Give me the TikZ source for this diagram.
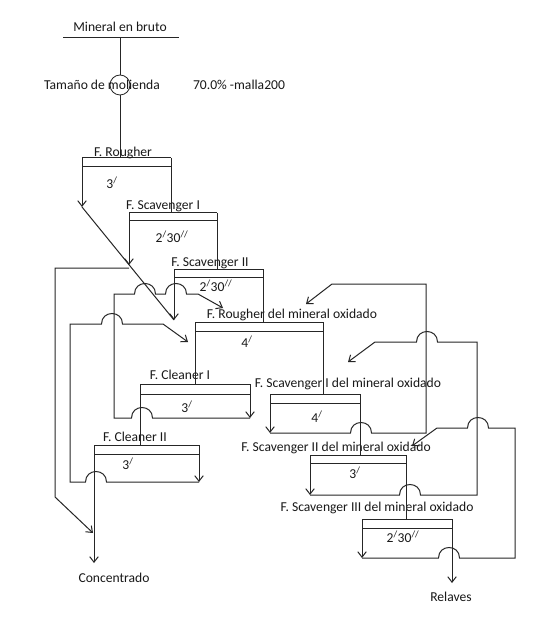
\documentclass[tikz,border=0pt]{standalone}
\usepackage{fontspec}
\setmainfont{Carlito}
\usetikzlibrary{arrows.meta}
\tikzset{
  arr/.style={-{Straight Barb[length=5.5pt,width=8.5pt]}},
  lbl/.style={font=\fontsize{13.6}{15}\selectfont, inner sep=0pt, text=black!90},
  hr/.style 2 args={insert path={-- (#1-10.5,#2) .. controls (#1-10.5,#2-14) and (#1+10.5,#2-14) .. (#1+10.5,#2)}},
  hl/.style 2 args={insert path={-- (#1+10.5,#2) .. controls (#1+10.5,#2-14) and (#1-10.5,#2-14) .. (#1-10.5,#2)}},
}
\newcommand\celda[5]{%
  \coordinate (#1-l) at (#2,#4);
  \coordinate (#1-r) at (#3,#4);
  \draw (#1-l) -- (#1-r);
  \draw (#2,#5) -- (#3,#5);}
\newcommand\pr{\textsuperscript{/}}
\newcommand\ppr{\textsuperscript{//}}
\begin{document}
\begin{tikzpicture}[x=1pt,y=-1pt,line width=1pt,draw=black!85]
\fill[white] (0,0) rectangle (550,617);
\useasboundingbox (0,0) rectangle (550,617);

% feed
\node[lbl] (mb) at (120,27) {Mineral en bruto};
\coordinate (mbl) at (63,38); \coordinate (mbr) at (179,38); \coordinate (mbc) at (120,38);
\draw (mbl) -- (mbr);
\node[draw, circle, minimum size=20pt, inner sep=0pt, line width=0.8pt] (mol) at (120,85) {};
\node[lbl] (tm) at (102,85) {Tamaño de molienda};
\node[lbl] (ma) at (239,85) {70.0\% -malla200};
\draw (mbc) -- (mol.north);

% cells
\celda{R}{82}{171}{158}{166.5}
\celda{SA}{129}{217}{213}{221}
\celda{SB}{174}{263}{269}{277}
\celda{Ro}{195}{323}{322}{331}
\celda{CA}{140}{250}{384}{394}
\celda{OA}{270}{360}{394}{403}
\celda{CB}{94}{199}{445}{454}
\celda{OB}{310}{406}{455}{463}
\celda{OC}{362}{452}{519}{528}

\draw (mol.south) -- (mol.south |- R-l);

% labels
\node[lbl] (lR) at (123,153) {F. Rougher};
\node[lbl] (tR) at (112,183) {3\pr};
\node[lbl] (lSA) at (163,206) {F. Scavenger I};
\node[lbl] (tSA) at (172,237) {2\pr30\ppr};
\node[lbl] (lSB) at (210,263) {F. Scavenger II};
\node[lbl] (tSB) at (216,286) {2\pr30\ppr};
\node[lbl] (lRo) at (292,315) {F. Rougher del mineral oxidado};
\node[lbl] (tRo) at (247,342) {4\pr};
\node[lbl] (lCA) at (180,375) {F. Cleaner I};
\node[lbl] (tCA) at (187,407) {3\pr};
\node[lbl] (lOA) at (348,384) {F. Scavenger I del mineral oxidado};
\node[lbl] (tOA) at (317,417) {4\pr};
\node[lbl] (lCB) at (135,437) {F. Cleaner II};
\node[lbl] (tCB) at (128,464) {3\pr};
\node[lbl] (lOB) at (336,448) {F. Scavenger II del mineral oxidado};
\node[lbl] (tOB) at (355,473) {3\pr};
\node[lbl] (lOC) at (377,508) {F. Scavenger III del mineral oxidado};
\node[lbl] (tOC) at (403,537) {2\pr30\ppr};
\node[lbl] (conc) at (114,578) {Concentrado};
\node[lbl] (rel) at (451,597) {Relaves};

% tailings
\draw (R-r) -- (R-r |- SA-l);
\draw (SA-r) -- (SA-r |- SB-l);
\draw (SB-r) -- (SB-r |- Ro-l);
\draw (Ro-r) -- (Ro-r |- OA-l);
\draw (Ro-l) -- (Ro-l |- CA-l);
\draw (CA-l) -- (CA-l |- CB-l);
\draw (OA-r) -- (OA-r |- OB-l);
\draw (OB-r) -- (OB-r |- OC-l);

% concentrates
\coordinate (Rc) at (82,207);
\coordinate (SAc) at (129,265);
\coordinate (SBc) at (174,320);
\coordinate (CAc) at (250,418);
\coordinate (CBc) at (199,482);
\coordinate (OAc) at (270,433);
\coordinate (OBc) at (310,495);
\coordinate (OCc) at (362,558);
\coordinate (conca) at (94,563);
\coordinate (rela) at (452,583);
\draw[arr] (R-l) -- (Rc);
\draw[arr] (SA-l) -- (SAc);
\draw[arr] (SB-l) -- (SBc);
\draw (Rc) -- (SBc);
\draw[arr] (CA-r) -- (CAc);
\draw[arr] (CB-r) -- (CBc);
\draw[arr] (OA-l) -- (OAc);
\draw[arr] (OB-l) -- (OBc);
\draw[arr] (OC-l) -- (OCc);
\draw[arr] (CB-l) -- (conca);
\draw[arr] (OC-r) -- (rela);

% return lines
\coordinate (k1) at (55,268);
\coordinate (k2) at (55,497);
\coordinate (k3) at (93,533);
\draw[arr] (SAc |- k1) -- (k1) -- (k2) -- (k3);

\draw[arr] (CAc) [hl={142}{418}] -- (114,418) -- (114,294) [hr={145}{294}] [hr={176}{294}] -- (198,294) -- (223,308);
\draw[arr] (CBc) [hl={96}{482}] -- (70,482) -- (70,324) [hr={112}{324}] -- (163,324) -- (188,342);
\draw[arr] (OAc) [hr={361}{433}] -- (426,433) -- (426,284) -- (332,284) -- (306,304);
\draw[arr] (OBc) [hr={410}{495}] -- (477,495) -- (477,342) [hl={427}{342}] -- (375,342) -- (348,362);
\draw[arr] (OCc) [hr={449}{558}] -- (515,558) -- (515,428) [hl={478}{428}] -- (437,428) -- (412,446);
\end{tikzpicture}
\end{document}
